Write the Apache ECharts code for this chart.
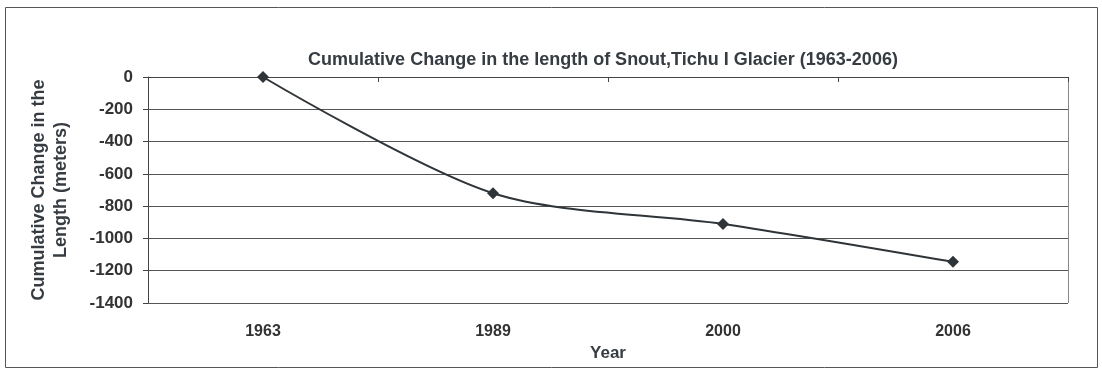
<!DOCTYPE html>
<html>
<head>
<meta charset="utf-8">
<script src="https://cdn.jsdelivr.net/npm/echarts@6/dist/echarts.min.js"></script>
<style>
  html, body { margin: 0; padding: 0; background: #fff; }
  #chart { width: 1102px; height: 369px; }
</style>
</head>
<body>
<div id="chart"></div>
<script>
// Snout retreat of Tichu I Glacier, cumulative since 1963
const years = ['1963', '1989', '2000', '2006'];
const cumulativeChange = [0, -720, -910, -1145];
const yTicks = { min: -1400, max: 0, interval: 200 };

const chart = echarts.init(document.getElementById('chart'));
const ink = '#2f3438';
const textInk = '#363c42';
const font = 'Liberation Sans, Arial, sans-serif';

chart.setOption({
  backgroundColor: '#fff',
  animation: false,
  title: {
    text: 'Cumulative Change in the length of Snout,Tichu I Glacier (1963-2006)',
    left: 598,
    textAlign: 'center',
    top: 46,
    textStyle: { fontFamily: font, fontSize: 18, fontWeight: 'bold', color: textInk }
  },
  graphic: [{
    type: 'rect',
    shape: { x: 5.5, y: 7.5, width: 1092, height: 360 },
    style: { fill: 'none', stroke: '#555', lineWidth: 1 },
    silent: true
  }, {
    // right edge of the plot frame
    type: 'line',
    shape: { x1: 1068.5, y1: 77, x2: 1068.5, y2: 303 },
    style: { stroke: '#888', lineWidth: 1 },
    silent: true
  }],
  grid: { left: 148, right: 34, top: 77, bottom: 66 },
  xAxis: {
    type: 'category',
    data: years,
    boundaryGap: true,
    name: 'Year',
    nameLocation: 'middle',
    nameGap: 42,
    nameTextStyle: { fontFamily: font, fontSize: 17, fontWeight: 'bold', color: textInk },
    axisLine: { lineStyle: { color: '#444', width: 1 } },
    axisTick: { show: true, length: 5, lineStyle: { color: '#444' } },
    axisLabel: { margin: 21, fontFamily: font, fontSize: 16, fontWeight: 'bold', color: '#333' },
    splitLine: { show: false }
  },
  yAxis: {
    type: 'value',
    min: yTicks.min,
    max: yTicks.max,
    interval: yTicks.interval,
    name: 'Cumulative Change in the\nLength (meters)',
    nameLocation: 'middle',
    nameRotate: 90,
    nameGap: 76,
    nameTextStyle: { fontFamily: font, fontSize: 18, fontWeight: 'bold', color: textInk, lineHeight: 22, align: 'center' },
    axisLine: { show: true, lineStyle: { color: '#444', width: 1 } },
    axisTick: { show: true, length: 5, lineStyle: { color: '#444' } },
    axisLabel: {
      margin: 15, fontFamily: font, fontSize: 17, fontWeight: 'bold', color: '#333',
      formatter: (v) => String(v)
    },
    splitLine: { show: true, lineStyle: { color: '#555', width: 1 } }
  },
  series: [{
    type: 'line',
    data: cumulativeChange,
    smooth: 0.3,
    symbol: 'diamond',
    symbolSize: 12,
    lineStyle: { color: ink, width: 2 },
    itemStyle: { color: ink }
  }]
});
</script>
</body>
</html>
